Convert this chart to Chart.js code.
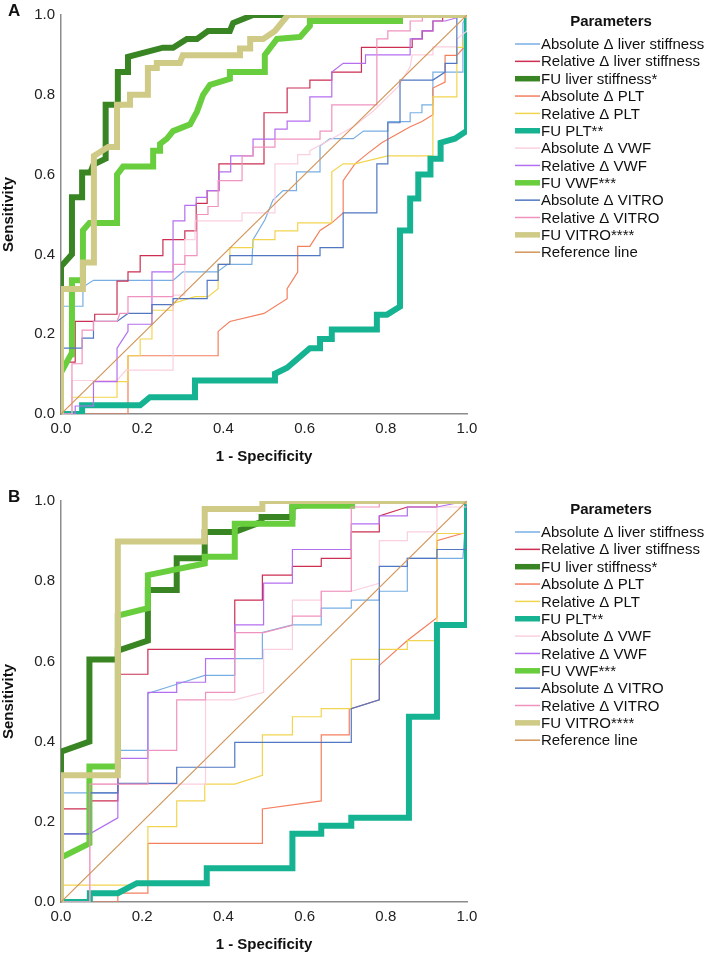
<!DOCTYPE html>
<html>
<head>
<meta charset="utf-8">
<script src="https://cdn.jsdelivr.net/npm/chart.js@4.4.1/dist/chart.umd.min.js"></script>
<style>
  html, body { margin: 0; padding: 0; background: #fff; }
  body { width: 709px; height: 956px; position: relative; overflow: hidden; }
  canvas { position: absolute; left: 0; }
  #chartA { top: 0; }
  #chartB { top: 486px; }
</style>
</head>
<body>
<canvas id="chartA" width="709" height="470"></canvas>
<canvas id="chartB" width="709" height="470"></canvas>
<script>
const seriesLabels = [
  'Absolute Δ liver stiffness', 'Relative Δ liver stiffness', 'FU liver stiffness*',
  'Absolute Δ PLT', 'Relative Δ PLT', 'FU PLT**',
  'Absolute Δ VWF', 'Relative Δ VWF', 'FU VWF***',
  'Absolute Δ VITRO', 'Relative Δ VITRO', 'FU VITRO****',
  'Reference line',
];
const seriesColors = [
  '#78aee3', '#cc2f52', '#3a8523',
  '#f47f5f', '#f1d54f', '#16b393',
  '#fbcfe0', '#b46ef0', '#68ce3d',
  '#5177c2', '#f092be', '#cfca86',
  '#d2955a',
];
const thickSeries = [2, 5, 8, 11];
const tickValues = [0, 0.2, 0.4, 0.6, 0.8, 1.0];

// panel A: [1 - specificity, sensitivity]
const aAbsLiver = [[0,0],[0,0.27],[0.052,0.27],[0.054,0.318],[0.08,0.335],[0.276,0.335],[0.3,0.356],[0.385,0.356],[0.41,0.375],[0.47,0.375],[0.473,0.437],[0.502,0.486],[0.522,0.536],[0.547,0.56],[0.58,0.56],[0.58,0.607],[0.638,0.607],[0.638,0.672],[0.663,0.69],[0.72,0.69],[0.745,0.709],[0.805,0.709],[0.805,0.733],[0.86,0.733],[0.86,0.755],[0.889,0.755],[0.889,0.775],[0.916,0.775],[0.916,0.857],[0.99,0.857],[0.99,0.98],[1,1]];
const aRelLiver = [[0,0],[0,0.13],[0.035,0.13],[0.035,0.232],[0.083,0.232],[0.083,0.25],[0.138,0.25],[0.138,0.333],[0.165,0.333],[0.165,0.356],[0.195,0.356],[0.195,0.397],[0.251,0.397],[0.251,0.437],[0.305,0.437],[0.305,0.459],[0.333,0.459],[0.333,0.528],[0.36,0.528],[0.36,0.56],[0.389,0.56],[0.389,0.627],[0.5,0.627],[0.5,0.755],[0.557,0.755],[0.557,0.817],[0.613,0.817],[0.613,0.837],[0.667,0.837],[0.667,0.857],[0.74,0.857],[0.74,0.919],[0.865,0.919],[0.865,0.94],[0.89,0.94],[0.89,0.96],[0.916,0.96],[0.916,0.985],[0.94,0.985],[0.94,1],[1,1]];
const aFuLiver = [[0,0],[0,0.37],[0.027,0.4],[0.027,0.543],[0.052,0.543],[0.052,0.605],[0.072,0.605],[0.08,0.625],[0.11,0.64],[0.11,0.775],[0.14,0.775],[0.14,0.857],[0.163,0.857],[0.165,0.895],[0.251,0.918],[0.276,0.918],[0.31,0.94],[0.335,0.94],[0.362,0.96],[0.416,0.96],[0.424,0.98],[0.473,1],[1,1]];
const aAbsPlt = [[0,0],[0.165,0],[0.165,0.146],[0.387,0.146],[0.387,0.207],[0.416,0.232],[0.5,0.252],[0.557,0.289],[0.557,0.314],[0.583,0.356],[0.583,0.42],[0.613,0.42],[0.638,0.46],[0.667,0.479],[0.695,0.504],[0.695,0.585],[0.724,0.627],[0.754,0.652],[0.79,0.68],[0.86,0.72],[0.889,0.733],[0.916,0.75],[0.916,0.817],[0.946,0.832],[0.946,0.899],[0.975,0.899],[0.99,0.916],[1,0.92],[1,1]];
const aRelPlt = [[0,0],[0.027,0],[0.027,0.042],[0.138,0.042],[0.138,0.081],[0.165,0.081],[0.165,0.146],[0.195,0.146],[0.195,0.188],[0.224,0.188],[0.224,0.26],[0.276,0.26],[0.276,0.277],[0.33,0.294],[0.362,0.294],[0.387,0.314],[0.387,0.375],[0.416,0.375],[0.416,0.417],[0.473,0.417],[0.473,0.437],[0.527,0.437],[0.527,0.459],[0.583,0.459],[0.583,0.479],[0.667,0.479],[0.667,0.607],[0.695,0.627],[0.724,0.627],[0.805,0.647],[0.916,0.647],[0.916,0.795],[0.975,0.795],[0.975,0.919],[0.99,0.919],[1,1]];
const aFuPlt = [[0,0],[0.052,0],[0.052,0.022],[0.195,0.022],[0.219,0.042],[0.33,0.042],[0.33,0.084],[0.527,0.084],[0.527,0.101],[0.557,0.116],[0.613,0.165],[0.638,0.165],[0.638,0.188],[0.667,0.188],[0.667,0.212],[0.778,0.212],[0.778,0.249],[0.803,0.249],[0.835,0.269],[0.835,0.46],[0.86,0.46],[0.86,0.54],[0.88,0.54],[0.88,0.6],[0.91,0.6],[0.91,0.64],[0.935,0.64],[0.935,0.68],[0.97,0.69],[1,0.71],[1,1]];
const aAbsVwf = [[0,0],[0.027,0],[0.027,0.084],[0.138,0.084],[0.16,0.11],[0.276,0.11],[0.276,0.298],[0.305,0.298],[0.305,0.437],[0.33,0.437],[0.33,0.484],[0.446,0.484],[0.446,0.504],[0.527,0.504],[0.527,0.627],[0.583,0.627],[0.583,0.65],[0.613,0.65],[0.613,0.66],[0.667,0.69],[0.72,0.72],[0.77,0.76],[0.83,0.82],[0.86,0.87],[0.865,0.9],[0.916,0.9],[0.916,0.92],[0.975,0.92],[0.975,0.94],[1,0.96],[1,1]];
const aRelVwf = [[0,0],[0.035,0],[0.035,0.02],[0.08,0.02],[0.08,0.081],[0.138,0.081],[0.138,0.165],[0.165,0.207],[0.165,0.225],[0.224,0.225],[0.224,0.356],[0.276,0.356],[0.276,0.484],[0.305,0.484],[0.305,0.523],[0.333,0.523],[0.333,0.543],[0.36,0.543],[0.36,0.56],[0.389,0.56],[0.389,0.607],[0.418,0.607],[0.418,0.647],[0.473,0.647],[0.473,0.689],[0.527,0.689],[0.527,0.714],[0.557,0.714],[0.557,0.734],[0.613,0.734],[0.613,0.795],[0.667,0.795],[0.667,0.857],[0.695,0.879],[0.75,0.879],[0.75,0.9],[0.86,0.9],[0.86,0.94],[0.889,0.94],[0.889,0.96],[0.916,0.96],[0.916,0.985],[0.946,0.985],[1,1]];
const aFuVwf = [[0,0],[0,0.104],[0.025,0.15],[0.027,0.335],[0.054,0.335],[0.054,0.46],[0.07,0.479],[0.138,0.479],[0.138,0.6],[0.153,0.62],[0.227,0.62],[0.227,0.66],[0.244,0.66],[0.244,0.677],[0.261,0.69],[0.276,0.709],[0.318,0.726],[0.335,0.758],[0.35,0.8],[0.367,0.825],[0.416,0.84],[0.416,0.857],[0.502,0.857],[0.502,0.9],[0.532,0.94],[0.589,0.945],[0.613,0.973],[0.613,0.985],[0.835,0.985],[0.835,1],[1,1]];
const aAbsVitro = [[0,0],[0,0.165],[0.052,0.165],[0.052,0.19],[0.08,0.19],[0.08,0.232],[0.138,0.232],[0.165,0.252],[0.224,0.252],[0.224,0.274],[0.276,0.274],[0.276,0.289],[0.36,0.289],[0.36,0.335],[0.387,0.335],[0.387,0.375],[0.416,0.375],[0.416,0.397],[0.638,0.397],[0.638,0.417],[0.695,0.417],[0.695,0.504],[0.778,0.504],[0.778,0.627],[0.805,0.627],[0.805,0.73],[0.835,0.73],[0.835,0.837],[0.916,0.837],[0.946,0.857],[0.946,0.879],[0.975,0.879],[0.975,0.993],[1,1]];
const aRelVitro = [[0,0],[0.027,0],[0.027,0.126],[0.052,0.126],[0.052,0.21],[0.08,0.21],[0.08,0.232],[0.138,0.232],[0.145,0.252],[0.165,0.252],[0.165,0.294],[0.276,0.294],[0.276,0.375],[0.305,0.375],[0.305,0.397],[0.335,0.397],[0.335,0.5],[0.362,0.5],[0.362,0.52],[0.387,0.52],[0.387,0.585],[0.446,0.585],[0.446,0.647],[0.473,0.647],[0.473,0.669],[0.527,0.669],[0.527,0.689],[0.638,0.689],[0.638,0.709],[0.667,0.709],[0.667,0.775],[0.778,0.775],[0.778,0.94],[0.805,0.94],[0.805,0.96],[0.86,0.96],[0.86,0.985],[0.89,0.985],[0.89,1],[1,1]];
const aFuVitro = [[0,0],[0,0.313],[0.054,0.313],[0.054,0.38],[0.08,0.38],[0.081,0.647],[0.116,0.669],[0.138,0.669],[0.138,0.775],[0.17,0.775],[0.17,0.8],[0.214,0.8],[0.214,0.867],[0.236,0.867],[0.236,0.88],[0.293,0.88],[0.3,0.899],[0.441,0.899],[0.441,0.916],[0.466,0.916],[0.466,0.94],[0.498,0.94],[0.527,0.96],[0.559,1],[1,1]];
const aReference = [[0,0],[1,1]];

// panel B
const bAbsLiver = [[0,0],[0,0.272],[0.14,0.272],[0.14,0.378],[0.214,0.378],[0.214,0.52],[0.285,0.543],[0.354,0.565],[0.428,0.565],[0.428,0.607],[0.496,0.607],[0.496,0.672],[0.57,0.691],[0.641,0.691],[0.641,0.733],[0.715,0.733],[0.715,0.753],[0.784,0.753],[0.784,0.775],[0.853,0.775],[0.853,0.857],[0.99,0.857],[1,1]];
const bRelLiver = [[0,0],[0,0.232],[0.07,0.232],[0.07,0.252],[0.14,0.252],[0.14,0.568],[0.214,0.568],[0.214,0.63],[0.428,0.63],[0.428,0.753],[0.496,0.753],[0.496,0.815],[0.57,0.815],[0.57,0.837],[0.641,0.837],[0.641,0.857],[0.715,0.857],[0.715,0.923],[0.784,0.923],[0.784,0.963],[0.853,0.985],[0.926,0.985],[0.926,1],[1,1]];
const bFuLiver = [[0,0],[0,0.375],[0.07,0.4],[0.07,0.605],[0.14,0.605],[0.14,0.627],[0.214,0.652],[0.214,0.778],[0.285,0.778],[0.285,0.857],[0.354,0.857],[0.354,0.923],[0.428,0.923],[0.494,0.948],[0.494,0.96],[0.57,0.96],[0.57,0.985],[0.64,1],[1,1]];
const bAbsPlt = [[0,0],[0.14,0],[0.14,0.022],[0.214,0.022],[0.214,0.146],[0.496,0.146],[0.496,0.232],[0.641,0.252],[0.641,0.417],[0.71,0.417],[0.71,0.481],[0.784,0.504],[0.784,0.59],[0.853,0.652],[0.926,0.709],[0.926,0.901],[0.988,0.919],[1,0.92],[1,1]];
const bRelPlt = [[0,0],[0,0.042],[0.214,0.042],[0.214,0.188],[0.285,0.188],[0.285,0.252],[0.354,0.252],[0.354,0.294],[0.428,0.294],[0.496,0.316],[0.496,0.417],[0.57,0.417],[0.57,0.462],[0.641,0.462],[0.641,0.482],[0.715,0.482],[0.715,0.605],[0.784,0.605],[0.784,0.63],[0.853,0.63],[0.853,0.652],[0.926,0.652],[0.926,0.919],[0.988,0.919],[1,0.92],[1,1]];
const bFuPlt = [[0,0],[0.071,0],[0.071,0.022],[0.14,0.022],[0.187,0.047],[0.359,0.047],[0.359,0.084],[0.57,0.084],[0.57,0.17],[0.641,0.17],[0.641,0.19],[0.715,0.19],[0.715,0.21],[0.857,0.21],[0.857,0.462],[0.926,0.462],[0.926,0.691],[1,0.691],[1,1]];
const bAbsVwf = [[0,0],[0.071,0],[0.071,0.294],[0.356,0.294],[0.356,0.504],[0.428,0.504],[0.499,0.523],[0.499,0.63],[0.57,0.63],[0.57,0.753],[0.641,0.753],[0.641,0.775],[0.715,0.775],[0.784,0.795],[0.784,0.901],[0.853,0.901],[0.853,0.923],[0.926,0.923],[0.926,0.985],[1,0.985],[1,1]];
const bRelVwf = [[0,0],[0,0.17],[0.071,0.17],[0.14,0.21],[0.14,0.358],[0.214,0.358],[0.214,0.523],[0.285,0.523],[0.285,0.548],[0.356,0.548],[0.356,0.607],[0.428,0.607],[0.428,0.691],[0.499,0.691],[0.499,0.795],[0.57,0.795],[0.57,0.879],[0.715,0.879],[0.715,0.943],[0.784,0.943],[0.784,0.963],[0.853,0.963],[0.853,0.985],[0.926,0.985],[1,1]];
const bFuVwf = [[0,0],[0,0.111],[0.07,0.146],[0.07,0.338],[0.14,0.338],[0.14,0.714],[0.214,0.733],[0.214,0.815],[0.354,0.844],[0.354,0.861],[0.428,0.861],[0.428,0.943],[0.57,0.943],[0.57,0.988],[0.717,0.988],[0.717,1],[1,1]];
const bAbsVitro = [[0,0],[0,0.17],[0.071,0.17],[0.071,0.272],[0.14,0.272],[0.14,0.296],[0.285,0.296],[0.285,0.336],[0.428,0.336],[0.428,0.398],[0.715,0.398],[0.715,0.482],[0.784,0.504],[0.784,0.837],[0.853,0.837],[0.853,0.857],[0.926,0.857],[0.926,0.879],[1,0.879],[1,1]];
const bRelVitro = [[0,0],[0.071,0],[0.071,0.294],[0.214,0.294],[0.214,0.378],[0.285,0.378],[0.285,0.504],[0.356,0.504],[0.356,0.523],[0.428,0.523],[0.428,0.672],[0.499,0.672],[0.57,0.69],[0.57,0.713],[0.641,0.713],[0.641,0.775],[0.715,0.775],[0.715,0.985],[0.784,0.985],[0.784,1],[1,1]];
const bFuVitro = [[0,0],[0,0.316],[0.14,0.316],[0.14,0.899],[0.354,0.899],[0.354,0.98],[0.496,0.98],[0.496,1],[1,1]];
const bReference = [[0,0],[1,1]];

const fontFamily = '"Liberation Sans", Arial, sans-serif';
Chart.defaults.font.family = fontFamily;

// legend on the right, panel letter top left
const sideLegend = {
  id: 'sideLegend',
  afterDraw(chart, args, opts) {
    const { ctx } = chart;
    ctx.save();
    ctx.fillStyle = '#111';
    ctx.textBaseline = 'middle';
    ctx.textAlign = 'left';
    ctx.font = `bold 17px ${fontFamily}`;
    ctx.fillText(opts.letter, 8, opts.letterY);

    ctx.textAlign = 'center';
    ctx.font = `bold 15px ${fontFamily}`;
    ctx.fillText('Parameters', 611, opts.top);

    ctx.textAlign = 'left';
    ctx.font = `15px ${fontFamily}`;
    chart.data.datasets.forEach((ds, i) => {
      const y = opts.top + 22 + i * 17.35;
      ctx.strokeStyle = ds.borderColor;
      ctx.lineWidth = ds.borderWidth > 2 ? 5.5 : 1.5;
      ctx.beginPath();
      ctx.moveTo(515, y);
      ctx.lineTo(540, y);
      ctx.stroke();
      ctx.fillStyle = '#111';
      ctx.fillText(ds.label, 541, y + 1);
    });
    ctx.restore();
  },
};

function makePanel(canvasId, letter, series, cfg) {
  const ctx = document.getElementById(canvasId).getContext('2d');
  const datasets = series.map((pts, i) => ({
    label: seriesLabels[i],
    data: pts.map(([x, y]) => ({ x, y })),
    borderColor: seriesColors[i],
    backgroundColor: seriesColors[i],
    borderWidth: thickSeries.includes(i) ? 6 : 1.2,
    pointRadius: 0,
    fill: false,
    tension: 0,
    order: -i,
    borderJoinStyle: 'miter',
    borderCapStyle: 'butt',
  }));

  const axisFont = { size: 15 };
  const titleFont = { size: 15, weight: 'bold' };
  const border = { display: true, color: '#8c8c8c', width: 1.5 };

  return new Chart(ctx, {
    type: 'line',
    data: { datasets },
    options: {
      responsive: false,
      animation: false,
      layout: { padding: { top: cfg.padTop, right: 242, bottom: cfg.padBottom, left: 0 } },
      plugins: {
        legend: { display: false },
        tooltip: { enabled: false },
        sideLegend: { letter, letterY: cfg.letterY, top: cfg.legendTop },
      },
      scales: {
        x: {
          type: 'linear',
          min: 0,
          max: 1,
          grid: { display: false, drawTicks: false },
          border,
          afterBuildTicks: (scale) => { scale.ticks = tickValues.map((value) => ({ value })); },
          ticks: { padding: 6, color: '#222', font: axisFont, callback: (v) => v.toFixed(1) },
          title: { display: true, text: '1 - Specificity', color: '#111', font: titleFont, padding: 0 },
          afterFit: (scale) => { scale.height = 52; },
        },
        y: {
          type: 'linear',
          min: 0,
          max: 1,
          grid: { display: false, drawTicks: false },
          border,
          afterBuildTicks: (scale) => { scale.ticks = tickValues.map((value) => ({ value })); },
          ticks: { padding: 6, color: '#222', font: axisFont, callback: (v) => v.toFixed(1) },
          title: { display: true, text: 'Sensitivity', color: '#111', font: titleFont, padding: 0 },
          afterFit: (scale) => { scale.width = 61; },
        },
      },
    },
    plugins: [sideLegend],
  });
}

makePanel('chartA', 'A', [
  aAbsLiver, aRelLiver, aFuLiver, aAbsPlt, aRelPlt, aFuPlt,
  aAbsVwf, aRelVwf, aFuVwf, aAbsVitro, aRelVitro, aFuVitro, aReference,
], { padTop: 9, padBottom: 4, letterY: 11, legendTop: 22 });

makePanel('chartB', 'B', [
  bAbsLiver, bRelLiver, bFuLiver, bAbsPlt, bRelPlt, bFuPlt,
  bAbsVwf, bRelVwf, bFuVwf, bAbsVitro, bRelVitro, bFuVitro, bReference,
], { padTop: 11, padBottom: 2, letterY: 11.5, legendTop: 24 });
</script>
</body>
</html>
